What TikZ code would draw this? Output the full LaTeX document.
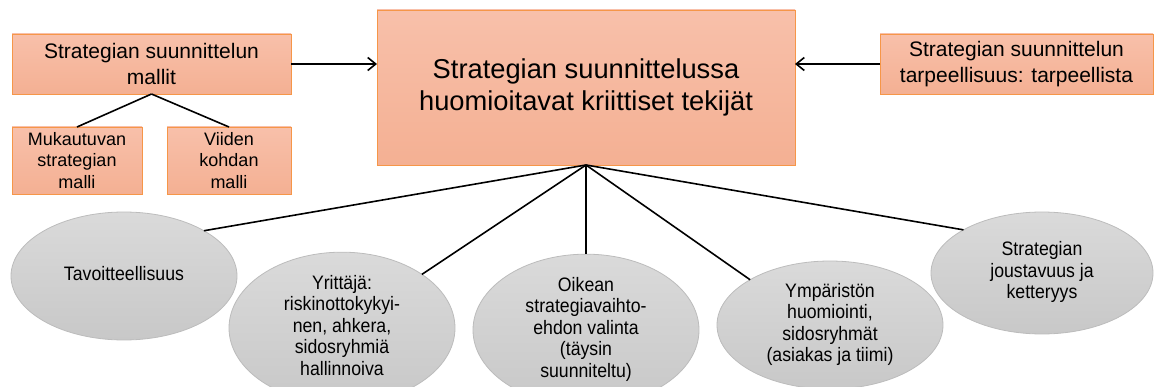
\documentclass[tikz,border=0pt]{standalone}
\usepackage{fontspec}
\usepackage{graphicx}
\setmainfont{Liberation Sans}
\usetikzlibrary{positioning,arrows.meta,shapes.geometric}
\definecolor{boxtop}{RGB}{248,192,170}
\definecolor{boxbot}{RGB}{244,176,147}
\definecolor{boxline}{RGB}{246,150,72}
\definecolor{bubtop}{RGB}{218,218,218}
\definecolor{bubbot}{RGB}{200,200,200}
\definecolor{bubline}{RGB}{188,188,188}
% ellipse texts are set a little taller than wide
\newcommand{\bubtext}[1]{\scalebox{1}[1.1]{\begin{tabular}{@{}c@{}}#1\end{tabular}}}
\begin{document}
\begin{tikzpicture}
[x=1pt,y=-1pt,
 every node/.style={inner sep=0pt,outer sep=0pt,align=center},
 box/.style={rectangle,draw=boxline,line width=0.8pt,top color=boxtop,bottom color=boxbot},
 mainbox/.style={box,minimum width=418pt,minimum height=155pt,font=\fontsize{27.3}{32}\selectfont},
 sidebox/.style={box,minimum height=60pt,font=\fontsize{21}{26.5}\selectfont},
 subbox/.style={box,minimum height=67pt,font=\fontsize{18}{21.5}\selectfont},
 bub/.style={ellipse,draw=bubline,line width=0.8pt,top color=bubtop,bottom color=bubbot,
   minimum width=226pt,minimum height=128pt,font=\fontsize{17.7}{19.5}\selectfont},
 link/.style={line width=1.6pt},
 arr/.style={link,-{Straight Barb[length=8pt,width=13pt,line width=1.6pt]}}]
\path[use as bounding box,clip] (0,0) rectangle (1154,387);

\node[mainbox] (top) at (586,87.5) {Strategian suunnittelussa\\huomioitavat kriittiset tekijät};
\node[sidebox,minimum width=279pt] (models) [on grid,above left=23.5pt and 434.5pt of top]  {Strategian suunnittelun\\mallit};
\node[sidebox,minimum width=273pt] (need)   [on grid,above right=23.5pt and 430.5pt of top] {Strategian suunnittelun\\tarpeellisuus: tarpeellista};
\node[subbox,minimum width=130pt]  (adapt)  [on grid,below left=96.5pt and 74.5pt of models]  {Mukautuvan\\strategian\\malli};
\node[subbox,minimum width=124pt]  (five)   [on grid,below right=96.5pt and 77.5pt of models] {Viiden\\kohdan\\malli};

\node[bub] (goal)  [on grid,below left=188.5pt and 462pt of top]  {\bubtext{Tavoitteellisuus}};
\node[bub] (entre) [on grid,below left=240.5pt and 244pt of top]  {\bubtext{Yrittäjä:\\riskinottokykyi-\\nen, ahkera,\\sidosryhmiä\\hallinnoiva}};
\node[bub] (choice)[on grid,below=242.5pt of top]                 {\bubtext{Oikean\\strategiavaihto-\\ehdon valinta\\(täysin\\suunniteltu)}};
\node[bub] (env)   [on grid,below right=237.5pt and 244pt of top] {\bubtext{Ympäristön\\huomiointi,\\sidosryhmät\\(asiakas ja tiimi)}};
\node[bub,minimum width=222pt,minimum height=122pt] (agile) [on grid,below right=185.5pt and 456pt of top] {\bubtext{Strategian\\joustavuus ja\\ketteryys}};

\path[arr]  (models.east) edge (models.east -| top.west);
\path[arr]  (need.west)   edge (need.west -| top.east);
\path[link] (models.south) edge (adapt.north);
\path[link] (models.south) edge (five.north);
\path[link] (top.south) edge (goal.north east);
\path[link] (top.south) edge (entre.north east);
\path[link] (top.south) edge (choice.north);
\path[link] (top.south) edge (env.north west);
\path[link] (top.south) edge (agile.north west);
\end{tikzpicture}
\end{document}
